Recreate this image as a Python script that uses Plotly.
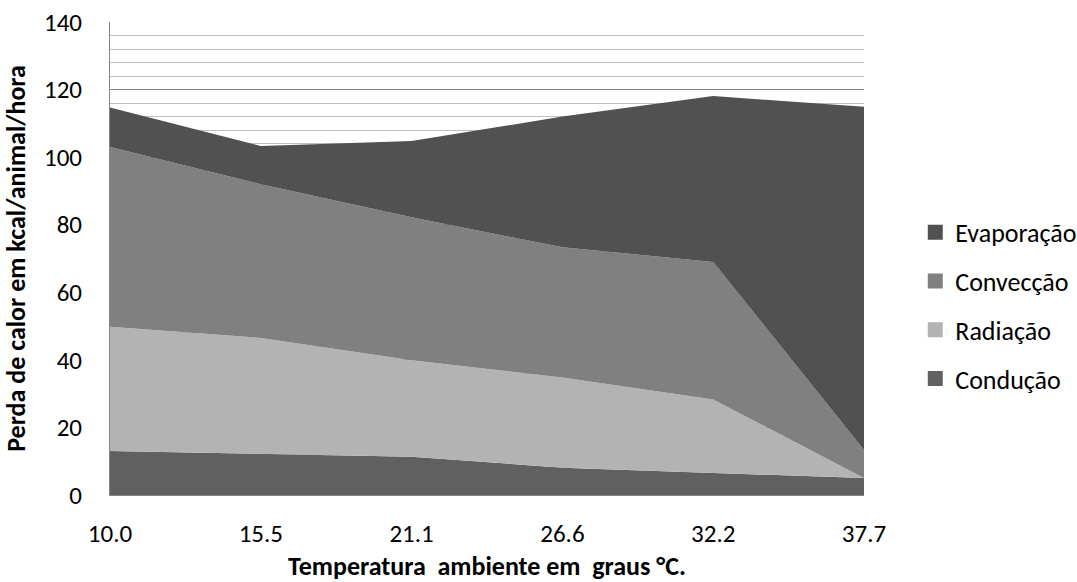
import plotly.graph_objects as go

temps = ["10.0", "15.5", "21.1", "26.6", "32.2", "37.7"]
conducao = [13.0, 12.2, 11.3, 8.1, 6.5, 5.0]
radiacao = [36.8, 34.3, 28.6, 26.7, 21.8, 0.0]
conveccao = [53.2, 45.5, 42.3, 38.5, 40.7, 8.3]
evaporacao = [11.7, 11.3, 22.6, 38.7, 49.1, 101.6]

series = [
    ("Condução", conducao, "#606060"),
    ("Radiação", radiacao, "#b3b3b3"),
    ("Convecção", conveccao, "#808080"),
    ("Evaporação", evaporacao, "#515151"),
]

font = "Carlito, Calibri, Lato, sans-serif"

fig = go.Figure()
for name, vals, col in series:
    fig.add_trace(go.Scatter(
        x=temps, y=vals, name=name, mode="lines",
        stackgroup="one", line=dict(width=0, color=col),
        fillcolor=col, showlegend=False,
    ))
# legend entries with square swatches (top to bottom: Evaporação ... Condução)
for name, vals, col in reversed(series):
    fig.add_trace(go.Scatter(x=[None], y=[None], name=name, mode="markers",
                             marker=dict(symbol="square", size=15, color=col),
                             legendgroup=name, showlegend=True))

fig.update_layout(
    width=1077, height=582,
    margin=dict(l=110, r=213, t=22, b=87, autoexpand=False),
    paper_bgcolor="white", plot_bgcolor="white",
    font=dict(family=font, size=25, color="#000000"),
    showlegend=True,
    legend=dict(traceorder="grouped", x=1.068, y=0.40, xanchor="left", yanchor="middle",
                font=dict(size=26), tracegroupgap=12, itemwidth=30),
    xaxis=dict(type="category", range=[0, 5], showgrid=False,
               showline=True, linecolor="#868686", linewidth=1,
               ticks="", ticklabelstandoff=16, automargin=False,
               title=dict(text="<b>Temperatura\u00a0 ambiente em\u00a0 graus °C.</b>", font=dict(size=26), standoff=12)),
    yaxis=dict(range=[0, 140], dtick=20, showgrid=True, gridcolor="#868686", gridwidth=1,
               minor=dict(dtick=4, showgrid=True, gridcolor="#c0c0c0", gridwidth=1),
               showline=True, linecolor="#868686", linewidth=1,
               ticks="", zeroline=False, ticklabelstandoff=22, automargin=False,
               title=dict(text="<b>Perda de calor em kcal/animal/hora</b>", font=dict(size=26), standoff=14)),
)

fig.write_html("out.html")
